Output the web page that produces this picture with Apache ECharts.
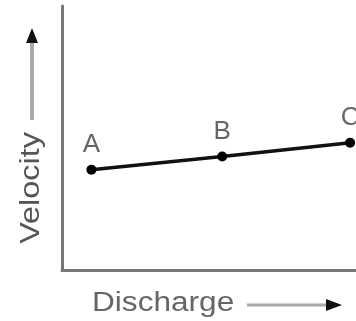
<!DOCTYPE html>
<html>
<head>
<meta charset="utf-8">
<script src="https://cdn.jsdelivr.net/npm/echarts@6/dist/echarts.min.js"></script>
<style>
html, body { margin: 0; padding: 0; background: #fff; }
#chart { width: 356px; height: 321px; }
</style>
</head>
<body>
<div id="chart"></div>
<script>
// points along the line (discharge vs velocity, arbitrary units)
var pointNames = ['A', 'B', 'C'];
var discharge = [10, 54.5, 98];
var velocity = [38, 43, 48.2];

var xTitle = 'Discharge';
var yTitle = 'Velocity';

var data = [];
for (var i = 0; i < pointNames.length; i++)
{
	data.push({ name: pointNames[i], value: [discharge[i], velocity[i]] });
}

var chart = echarts.init(document.getElementById('chart'));

var options =
{
	animation: false,
	grid: { left: 62, right: 0, top: 6, bottom: 51 },
	xAxis:
	{
		type: 'value',
		min: 0,
		max: 100,
		axisLine: { show: true, onZero: false, lineStyle: { color: '#777', width: 3 } },
		axisTick: { show: false },
		axisLabel: { show: false },
		splitLine: { show: false }
	},
	yAxis:
	{
		type: 'value',
		min: 0,
		max: 100,
		axisLine: { show: true, onZero: false, lineStyle: { color: '#777', width: 3 } },
		axisTick: { show: false },
		axisLabel: { show: false },
		splitLine: { show: false }
	},
	series:
	[
		{
			type: 'line',
			data: data,
			symbol: 'circle',
			symbolSize: 10,
			lineStyle: { color: '#111', width: 3.5 },
			itemStyle: { color: '#000' },
			label:
			{
				show: true,
				position: 'top',
				distance: 7,
				formatter: '{b}',
				fontFamily: 'Liberation Sans',
				fontSize: 26,
				color: '#666'
			}
		}
	],
	graphic:
	[
		{
			type: 'text',
			x: 92,
			y: 304,
			scaleX: 1.17,
			style:
			{
				text: xTitle,
				fontFamily: 'Liberation Sans',
				fontSize: 27,
				fill: '#666',
				verticalAlign: 'middle'
			}
		},
		{
			type: 'line',
			shape: { x1: 247, y1: 305, x2: 330, y2: 305 },
			style: { stroke: '#aaa', lineWidth: 3 }
		},
		{
			type: 'polygon',
			shape: { points: [[342, 305], [326, 299], [326, 311]] },
			style: { fill: '#111' }
		},
		{
			type: 'text',
			x: 32,
			y: 188,
			rotation: Math.PI / 2,
			scaleX: 1.2,
			style:
			{
				text: yTitle,
				fontFamily: 'Liberation Sans',
				fontSize: 27,
				fill: '#555',
				align: 'center',
				verticalAlign: 'middle'
			}
		},
		{
			type: 'line',
			shape: { x1: 32, y1: 42, x2: 32, y2: 120 },
			style: { stroke: '#aaa', lineWidth: 4 }
		},
		{
			type: 'polygon',
			shape: { points: [[32, 28], [26, 43], [38, 43]] },
			style: { fill: '#111' }
		}
	]
};

chart.setOption(options);
</script>
</body>
</html>
